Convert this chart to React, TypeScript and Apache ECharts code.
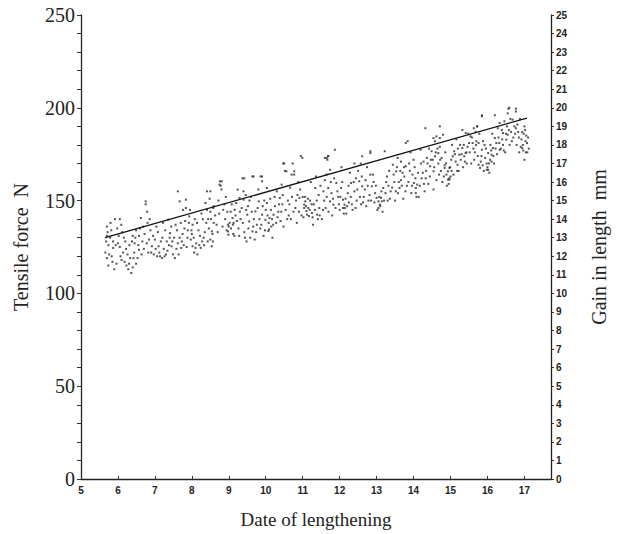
import React, { useEffect, useRef } from "react";
import * as echarts from "echarts";

// Tensile force readings (day, N)
const readingsDay5to8: number[][] = [
  [5.70,136],[5.92,140],[6.05,140],[6.09,137],[5.70,131],[5.79,130],[5.74,126],[5.87,128],[5.87,124.5],[6.00,127],
  [6.05,125],[6.14,122],[5.70,119],[5.74,115],[5.96,116],[6.18,117],[6.23,115],[6.36,111],[6.40,114],[6.49,116],
  [6.31,126],[6.40,131],[6.49,134],[6.57,131],[6.57,123.5],[6.66,128],[6.75,149.6],[6.75,148],[6.79,144],[6.62,140.6],
  [6.88,134],[6.84,129],[6.92,125.4],[6.97,121],[7.06,120],[7.14,120],[7.19,119],[7.10,125.4],[7.32,128],[7.28,134],
  [7.36,139.7],[7.41,132.5],[7.45,125.4],[7.49,121],[7.54,119],[7.62,127],[7.67,130],[7.71,124.5],[7.62,155],[7.67,149.6],
  [7.84,150.5],[7.84,146],[7.76,145],[7.93,141.5],[7.89,134],[8.02,137],[7.97,129],[8.02,125.4],[8.10,124.5],[8.15,121],
  [8.24,124.5],[8.32,130],[8.41,155],[8.37,148.7],[8.50,144],[8.46,135],[8.50,129],[8.54,125.4],[8.59,138],
  [5.66,122],[5.68,128],[5.82,134],[5.83,120],[5.90,113],[6.02,131],[6.10,118],[6.12,133],[6.20,128],[6.26,121],
  [6.28,113],[6.33,119],[6.44,122],[6.45,127],[6.53,119],[6.60,135],[6.70,124],[6.72,132],[6.80,138],[6.90,122],
  [7.00,129],[7.02,124],[7.08,133],[7.12,122],[7.20,130],[7.24,124],[7.30,121],[7.38,126],[7.44,136],[7.52,130],
  [7.58,124],[7.60,134],[7.70,138],[7.75,132],[7.78,126],[7.82,139],[7.88,130],[7.95,145],[8.00,132],[8.05,130],
  [8.08,140],[8.12,127],[8.18,134],[8.20,126],[8.28,128],[8.30,140],[8.35,133],[8.44,140],[8.48,151],[8.56,132],[8.58,146],
  [5.72,133],[5.76,121],[5.80,138],[5.85,117],[5.94,126],[5.98,135],[6.07,120],[6.16,130],[6.22,124],[6.30,116],
  [6.38,128],[6.42,119],[6.47,130],[6.55,126],[6.64,121],[6.68,136],[6.78,127],[6.82,122],[6.86,140],[6.95,131],
  [7.04,136],[7.16,128],[7.22,138],[7.26,120],[7.34,123],[7.40,130],[7.47,128],[7.56,137],[7.64,121],[7.73,128],
  [7.80,135],[7.86,125],[7.92,138],[7.99,134],[8.06,122],[8.14,138],[8.22,131],[8.26,143],[8.33,126],[8.39,138],
  [8.43,128],[8.52,140],[8.57,128]
];

const readingsDay8to11: number[][] = [
  [8.72,150],[8.59,147],[8.76,160.4],[8.78,158],[8.80,156],[8.81,160.4],[8.75,158.6],[8.98,137],[9.00,136],[8.99,131.6],
  [9.10,140.6],[9.13,138],[9.40,155],[9.40,150.5],[9.86,163],[10.03,148.7],[10.10,140.6],[10.15,136],[10.07,133.6],[10.40,139],
  [10.50,170],[10.52,166],[10.70,164],[10.73,170],[10.95,174],[11.04,147.8],[11.10,144.4],[11.17,141.7],[11.43,153],
  [9.02,138],[9.06,135],[9.11,137],[8.98,133.4],[9.37,162],[9.64,163],[9.46,153],[9.50,142.4],[9.55,138.8],[9.64,133.4],
  [9.72,144.2],[9.81,149.6],[9.90,142.4],[9.99,139.7],[10.09,134.5],[10.21,142.4],[10.25,147],[10.38,151.4],[10.43,158.6],
  [10.56,165.8],[10.77,164],[10.86,153],[10.99,173],[11.07,149.6],[11.12,142.4],[11.15,146],[9.20,148.7],[9.29,151.4],
  [8.67,137],[8.54,133.4],[8.41,145],[8.50,155],[9.24,155.9],[9.90,160.4],[10.03,156.8],
  [10.91,151.4],[11.04,146],[11.25,143.3],[11.39,142.4],[11.34,156.8],[10.77,165.8],
  [8.85,145],[8.90,140],[8.92,152],[9.05,144],[9.15,131],[9.18,142],[9.26,135],[9.32,140],[9.35,146],[9.42,133],
  [9.48,128],[9.52,147],[9.58,130],[9.60,152],[9.68,140],[9.70,129],[9.76,137],[9.80,156],[9.85,135],[9.94,131],
  [9.96,150],[10.00,145],[10.12,151],[10.18,130],[10.28,138],[10.30,155],[10.34,144],[10.45,148],[10.48,136],[10.60,150],
  [10.62,142],[10.66,157],[10.68,140],[10.80,146],[10.84,138],[10.88,160],[11.00,152],[11.20,150],[11.22,160],[11.28,137],
  [11.30,148],[11.36,163],[11.45,146],[11.48,158],
  [8.63,142],[8.70,133],[8.74,143],[8.83,136],[8.88,148],[8.94,134],[8.96,144],[9.08,148],[9.12,132],[9.16,145],
  [9.22,139],[9.28,131],[9.30,144],[9.38,138],[9.44,130],[9.47,145],[9.53,135],[9.56,150],[9.62,144],[9.66,136],
  [9.74,133],[9.78,146],[9.83,140],[9.88,137],[9.92,147],[9.98,134],[10.05,142],[10.08,138],[10.14,145],[10.17,140],
  [10.20,137],[10.24,152],[10.32,141],[10.36,148],[10.42,144],[10.46,153],[10.54,145],[10.58,140],[10.64,148],[10.71,152],
  [10.75,144],[10.82,150],[10.90,144],[10.93,156],[10.97,142],[11.02,141],[11.06,152],[11.09,147],[11.14,151],[11.19,145],
  [11.24,148],[11.27,141],[11.33,145],[11.38,150],[11.41,140],[11.46,142],[9.42,162],[9.67,163],[9.90,163],[10.47,170]
];

const readingsDay11to14: number[][] = [
  [11.52,140],[11.60,173],[11.64,164],[11.87,177.4],[11.65,173],[11.67,172],[11.74,166.6],[11.60,161],[11.69,156.8],[11.78,154],
  [11.91,159.5],[11.96,152],[12.04,156.8],[12.09,150.5],[12.13,147.8],[12.14,146],[12.22,154],[12.31,159.5],[12.44,162],
  [12.40,155],[12.53,160.4],[12.61,157.7],[12.70,161],[12.83,164],[12.87,157.7],[12.96,154],[13.00,151.5],[13.05,149.6],
  [13.09,147.8],[13.14,149.6],[13.18,156.8],[12.61,173.9],[12.83,175.6],[13.22,176.6],[12.40,170],[12.57,170],[13.44,169.3],
  [13.53,165.8],[13.57,173],[13.66,171],[13.66,161],[13.62,156.8],[13.75,163],[13.79,168.5],[13.88,170],[13.97,164],
  [14.01,159.5],[14.06,156.8],[14.10,158.6],[13.84,182],[14.19,177.4],[14.27,171],[14.36,173],[14.45,168.5],[11.65,152],
  [11.74,149.6],[11.83,147.8],[13.05,146],[13.10,147],[12.09,146],[13.12,151.5],[14.06,154],[11.69,173.9],[13.79,181],
  [11.55,145],[11.58,150],
  [11.80,142],[11.85,162],[12.00,145],[12.05,168],[12.18,143],[12.25,149],[12.28,165],[12.35,145],[12.46,150],[12.50,166],
  [12.58,148],[12.65,152],[12.74,168],[12.78,150],[12.92,160],[13.02,145],[13.16,144],[13.26,160],[13.30,150],[13.34,166],
  [13.38,155],[13.48,160],[13.50,150],[13.58,154],[13.70,165],[13.72,151],[13.82,158],[13.92,176],[13.94,154],[14.03,168],
  [14.14,152],[14.22,162],[14.30,155],[14.34,166],[14.40,159],[14.42,178],
  [11.56,155],[11.62,146],[11.70,144],[11.76,160],[11.82,151],[11.89,146],[11.94,155],[11.98,148],[12.02,152],[12.07,160],
  [12.11,143],[12.16,151],[12.20,147],[12.24,158],[12.30,152],[12.33,148],[12.38,160],[12.43,146],[12.48,156],[12.55,152],
  [12.60,163],[12.63,149],[12.68,156],[12.72,147],[12.76,158],[12.81,153],[12.85,150],[12.90,164],[12.94,149],[12.98,158],
  [13.07,152],[13.13,155],[13.20,150],[13.24,154],[13.28,163],[13.32,158],[13.36,151],[13.42,157],[13.46,164],[13.52,155],
  [13.55,168],[13.60,160],[13.64,166],[13.68,158],[13.74,168],[13.78,155],[13.86,160],[13.90,166],[13.96,158],[14.00,172],
  [14.05,162],[14.08,152],[14.12,165],[14.17,158],[14.20,170],[14.25,165],[14.28,159],[14.33,162],[14.38,170],[14.44,163],
  [14.47,172],[11.69,174],[12.83,176.6]
];

const readingsDay14to17: number[][] = [
  [14.54,165.8],[14.58,173.9],[14.67,170],[14.32,189],[14.71,179],[14.62,161],[14.54,156],
  [15.85,195.4],[16.20,196],[16.59,200],[16.77,198],[16.55,197],[16.33,191.8],[16.46,192.7],[16.68,193.6],[16.81,191],
  [16.94,187],[16.98,186],[17.03,182],[17.07,181],[16.94,178.3],[16.90,179],[16.77,189],[16.64,187],[16.55,185.5],
  [16.51,182.8],[16.42,180],[16.33,177.4],[16.24,181],[16.20,183.7],[16.15,178.3],[16.11,174.7],[16.07,172],[15.98,170],
  [16.02,175.6],[15.94,173],[15.85,177.4],[15.76,181],[15.68,187],[15.63,189],[15.72,190],[15.54,184.6],[15.50,181],
  [15.46,179],[15.41,175.6],[15.37,173.9],[15.32,178.3],[15.28,172],[15.24,174.7],[15.19,169.3],[15.10,176.6],[15.06,173.9],
  [15.02,172],[14.97,167.6],[14.93,165.8],[14.89,164],[14.84,167.6],[14.93,161.3],[14.97,162],[14.84,169],[14.76,173],
  [14.67,175.6],[14.58,182],[14.54,183.7],[14.49,176.6],[14.71,183.7],[14.80,185.5],[15.32,188],[15.41,186.4],[15.76,169.3],
  [15.80,167.6],[15.98,166.6],[16.00,168],[16.11,171],[16.28,189],[16.42,186.4],[14.62,184.6],[16.57,199.5],[16.77,199.5],
  [16.02,166.6],[16.05,165],[14.97,161.3],[15.00,163],
  [14.52,172],[14.65,178],[14.74,166],[14.78,160],[14.86,176],[14.90,158],[15.04,180],[15.08,164],[15.14,171],[15.16,183],
  [15.22,166],[15.26,180],[15.34,168],[15.44,170],[15.48,186],[15.52,176],[15.56,170],[15.60,181],[15.66,176],[15.70,182],
  [15.74,174],[15.78,186],[15.82,171],[15.88,182],[15.90,166],[15.96,178],[16.08,180],[16.13,186],[16.18,170],[16.26,175],
  [16.30,184],[16.36,178],[16.39,188],[16.48,176],[16.53,190],[16.60,180],[16.62,194],[16.70,184],[16.73,190],[16.85,184],
  [16.88,194],[16.96,180],[17.00,190],[17.05,185],[16.86,176],[17.00,172],[17.04,176],[17.10,184],[17.12,178],
  [14.56,168],[14.60,176],[14.69,164],[14.72,172],[14.82,163],[14.88,170],[14.95,159],[14.99,168],[15.03,166],[15.12,175],
  [15.18,166],[15.20,178],[15.30,175],[15.36,180],[15.39,171],[15.43,176],[15.58,184],[15.62,178],[15.64,172],[15.69,180],
  [15.84,174],[15.87,169],[15.92,180],[16.04,170],[16.10,177],[16.16,174],[16.22,178],[16.32,181],[16.40,183],[16.44,177],
  [16.50,186],[16.58,188],[16.66,182],[16.75,186],[16.79,180],[16.83,187],[16.92,183],[16.97,177],[17.02,188],[17.08,176],
  [14.71,190],[15.72,190],[15.85,196]
];

// Gain in length (mm), right axis
const gainDays = [5.65, 17.07];
const gainMm = [13.0, 19.45];

const xMin = 5;
const xMax = 17.72;
const forceMin = 0;
const forceMax = 250;
const gainMin = 0;
const gainMax = 25;

const serif = "'Liberation Serif', 'DejaVu Serif', serif";
const sans = "'Liberation Sans', Arial, sans-serif";

export default function App() {
  const ref = useRef<HTMLDivElement>(null);
  useEffect(() => {
    if (!ref.current) return;
    const chart = echarts.init(ref.current, null, { renderer: "svg" });
    const allReadings = [
      ...readingsDay5to8,
      ...readingsDay8to11,
      ...readingsDay11to14,
      ...readingsDay14to17,
    ];
    chart.setOption({
      animation: false,
      backgroundColor: "#ffffff",
      grid: { left: 81, right: 52, top: 15, bottom: 53 },
      xAxis: {
        type: "value",
        min: xMin,
        max: xMax,
        interval: 1,
        name: "Date of lengthening",
        nameLocation: "middle",
        nameGap: 31,
        nameTextStyle: { fontFamily: serif, fontSize: 19, color: "#222" },
        axisLine: { show: true, onZero: false, lineStyle: { color: "#222", width: 1.3 } },
        axisTick: { show: true, inside: true, length: 3, lineStyle: { color: "#333" } },
        axisLabel: {
          fontFamily: sans,
          fontWeight: "bold",
          fontSize: 10,
          color: "#222",
          margin: 6,
          showMaxLabel: false,
          formatter: (v: number) => (Math.abs(v - Math.round(v)) < 1e-6 ? String(Math.round(v)) : ""),
        },
        splitLine: { show: false },
      },
      yAxis: [
        {
          type: "value",
          min: forceMin,
          max: forceMax,
          interval: 10,
          position: "left",
          name: "Tensile force  N",
          nameLocation: "middle",
          nameGap: 50,
          nameTextStyle: { fontFamily: serif, fontSize: 20, color: "#222" },
          axisLine: { show: true, lineStyle: { color: "#222", width: 1.3 } },
          axisTick: { show: true, length: 4, lineStyle: { color: "#333" } },
          axisLabel: {
            fontFamily: serif,
            fontSize: 20,
            color: "#222",
            margin: 6,
            formatter: (v: number) => (v % 50 === 0 ? String(v) : ""),
          },
          splitLine: { show: false },
        },
        {
          type: "value",
          min: gainMin,
          max: gainMax,
          interval: 1,
          position: "right",
          name: "Gain in length  mm",
          nameLocation: "middle",
          nameGap: 38,
          nameRotate: 90,
          nameTextStyle: { fontFamily: serif, fontSize: 20, color: "#222" },
          axisLine: { show: true, lineStyle: { color: "#222", width: 1.3 } },
          axisTick: { show: true, length: 3, lineStyle: { color: "#333" } },
          axisLabel: {
            fontFamily: sans,
            fontWeight: "bold",
            fontSize: 10,
            color: "#222",
            margin: 5,
          },
          splitLine: { show: false },
        },
      ],
      series: [
        {
          type: "scatter",
          xAxisIndex: 0,
          yAxisIndex: 0,
          data: allReadings,
          symbol: "rect",
          symbolSize: 2,
          itemStyle: { color: "#2a2a2a" },
          silent: true,
        },
        {
          type: "line",
          xAxisIndex: 0,
          yAxisIndex: 1,
          data: gainDays.map((d, i) => [d, gainMm[i]]),
          showSymbol: false,
          lineStyle: { color: "#111", width: 1.3 },
          silent: true,
        },
      ],
    });
    return () => chart.dispose();
  }, []);
  return (
    <div
      ref={ref}
      style={{ position: "absolute", left: 0, top: 0, width: 617, height: 534 }}
    />
  );
}
